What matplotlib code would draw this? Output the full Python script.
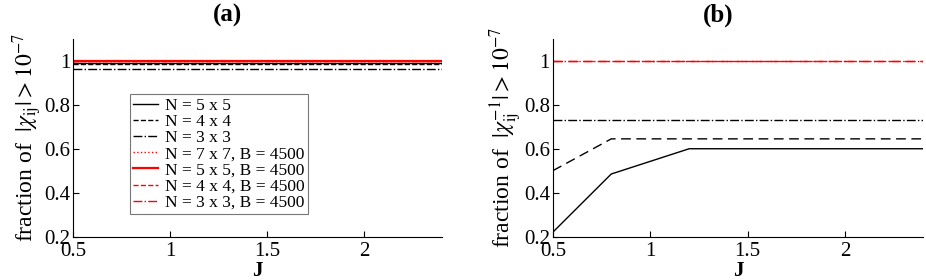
import matplotlib
matplotlib.use("Agg")
import matplotlib.pyplot as plt

plt.rcParams["font.family"] = ["Liberation Serif", "DejaVu Serif"]
plt.rcParams["mathtext.fontset"] = "stix"

# J grid
J = [0.5, 0.8, 1.2, 1.6, 2.0, 2.4]

# panel (a): fraction of |chi_ij| > 1e-7
a_5x5 = [0.99, 0.99, 0.99, 0.99, 0.99, 0.99]
a_4x4 = [0.985, 0.985, 0.985, 0.985, 0.985, 0.985]
a_3x3 = [0.965, 0.965, 0.965, 0.965, 0.965, 0.965]
a_7x7_B = [1.0, 1.0, 1.0, 1.0, 1.0, 1.0]
a_5x5_B = [1.0, 1.0, 1.0, 1.0, 1.0, 1.0]
a_4x4_B = [1.0, 1.0, 1.0, 1.0, 1.0, 1.0]
a_3x3_B = [1.0, 1.0, 1.0, 1.0, 1.0, 1.0]

# panel (b): fraction of |chi^-1_ij| > 1e-7
b_5x5 = [0.22, 0.485, 0.60, 0.60, 0.60, 0.60]
b_4x4 = [0.50, 0.645, 0.645, 0.645, 0.645, 0.645]
b_3x3 = [0.73, 0.73, 0.73, 0.73, 0.73, 0.73]
b_4x4_B = [1.0, 1.0, 1.0, 1.0, 1.0, 1.0]
b_3x3_B = [1.0, 1.0, 1.0, 1.0, 1.0, 1.0]

labels = ["N = 5 x 5", "N = 4 x 4", "N = 3 x 3",
          "N = 7 x 7, B = 4500", "N = 5 x 5, B = 4500",
          "N = 4 x 4, B = 4500", "N = 3 x 3, B = 4500"]

fig = plt.figure(figsize=(9.26, 2.8), dpi=100)
ax_a = fig.add_axes([0.0788, 0.155, 0.3985, 0.706])
ax_b = fig.add_axes([0.597, 0.155, 0.3996, 0.706])

lw = 1.0
ax_a.plot(J, a_5x5, "k-", lw=lw, label=labels[0])
ax_a.plot(J, a_4x4, "k--", lw=lw, label=labels[1])
ax_a.plot(J, a_3x3, "k-.", lw=lw, label=labels[2])
ax_a.plot(J, a_7x7_B, color="red", ls=":", lw=lw, label=labels[3])
ax_a.plot(J, a_5x5_B, color="red", ls="-", lw=1.6, label=labels[4])
ax_a.plot(J, a_4x4_B, color="red", ls="--", lw=lw, label=labels[5])
ax_a.plot(J, a_3x3_B, color="red", ls="-.", lw=lw, label=labels[6])

ax_b.plot(J, b_5x5, "k-", lw=lw)
ax_b.plot(J, b_4x4, "k--", lw=lw, dashes=(7, 4))
ax_b.plot(J, b_3x3, "k-.", lw=lw)
ax_b.plot(J, b_4x4_B, color="red", ls="--", lw=lw, dashes=(7, 4))
ax_b.plot(J, b_3x3_B, color="red", ls="-.", lw=lw)

leg = ax_a.legend(loc="upper left", bbox_to_anchor=(0.154, 0.72), fontsize=12.5,
                  frameon=True, fancybox=False, edgecolor="#555555",
                  handlelength=1.4, handletextpad=0.4, labelspacing=0.0,
                  borderpad=0.2, borderaxespad=0)
leg.get_frame().set_linewidth(0.8)

for ax, lab in [(ax_a, r"fraction of  $|\chi_{\rm ij}| > 10^{-7}$"),
                (ax_b, r"fraction of  $|\chi^{-1}_{\rm ij}| > 10^{-7}$")]:
    ax.set_xlim(0.5, 2.4)
    ax.set_ylim(0.2, 1.1)
    ax.set_xticks([0.5, 1, 1.5, 2])
    ax.set_xticklabels(["0.5", "1", "1.5", "2"])
    ax.set_yticks([0.2, 0.4, 0.6, 0.8, 1])
    ax.set_yticklabels(["0.2", "0.4", "0.6", "0.8", "1"])
    ax.tick_params(direction="in", labelsize=15, pad=2, length=4)
    ax.tick_params(axis="x", pad=4)
    ax.spines["top"].set_visible(False)
    ax.spines["right"].set_visible(False)
    ax.set_xlabel("J", fontsize=15, fontweight="bold", labelpad=0)
    ax.set_ylabel(lab, fontsize=17, labelpad=0)

fig.text(227 / 926, 1 - 15 / 280, "(a)", fontsize=18, fontweight="bold",
         ha="center", va="center")
fig.text(718 / 926, 1 - 15 / 280, "(b)", fontsize=18, fontweight="bold",
         ha="center", va="center")

fig.savefig("out.png", dpi=100)
